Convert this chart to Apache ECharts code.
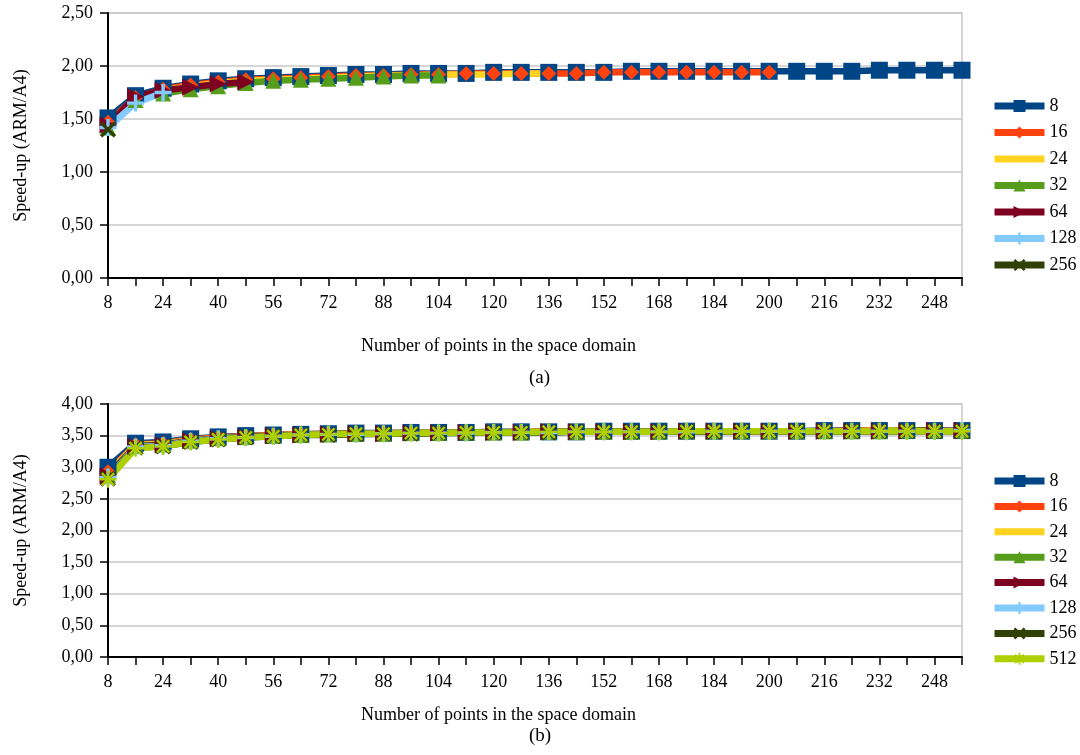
<!DOCTYPE html>
<html><head><meta charset="utf-8">
<script src="https://cdn.jsdelivr.net/npm/echarts@6/dist/echarts.min.js"></script>
<style>html,body{margin:0;padding:0;background:#fff}#c{width:1080px;height:755px}</style>
</head><body><div id="c"></div>
<script>
const categories = [8,16,24,32,40,48,56,64,72,80,88,96,104,112,120,128,136,144,152,160,168,176,184,192,200,208,216,224,232,240,248,256];
const seriesNamesA = ['8','16','24','32','64','128','256'];
const seriesNamesB = ['8','16','24','32','64','128','256','512'];
// Panel (a)
const a8   = [1.51,1.72,1.79,1.83,1.86,1.88,1.89,1.90,1.91,1.92,1.92,1.93,1.93,1.93,1.94,1.94,1.94,1.94,1.94,1.95,1.95,1.95,1.95,1.95,1.95,1.95,1.95,1.95,1.96,1.96,1.96,1.96];
const a16  = [1.47,1.70,1.78,1.82,1.85,1.87,1.88,1.89,1.90,1.91,1.91,1.92,1.92,1.93,1.93,1.93,1.93,1.93,1.94,1.94,1.94,1.94,1.94,1.94,1.94];
const a24  = [1.45,1.69,1.77,1.81,1.84,1.86,1.87,1.88,1.89,1.90,1.91,1.91,1.92,1.92,1.92,1.93,1.93];
const a32  = [1.42,1.68,1.74,1.78,1.81,1.84,1.86,1.87,1.88,1.89,1.90,1.91,1.91];
const a64  = [1.44,1.71,1.77,1.80,1.83,1.85];
const a128 = [1.42,1.65,1.75];
const a256 = [1.40];
// Panel (b)
const b8   = [3.00,3.38,3.40,3.45,3.48,3.50,3.51,3.52,3.53,3.54,3.54,3.55,3.55,3.55,3.56,3.56,3.56,3.56,3.57,3.57,3.57,3.57,3.57,3.57,3.57,3.57,3.58,3.58,3.58,3.58,3.58,3.58];
const b16  = [2.93,3.36,3.38,3.44,3.47,3.49,3.51,3.52,3.53,3.53,3.54,3.54,3.55,3.55,3.55,3.56,3.56,3.56,3.56,3.57,3.57,3.57,3.57,3.57,3.57,3.57,3.57,3.58,3.58,3.58,3.58,3.58];
const b24  = [2.90,3.35,3.37,3.43,3.46,3.49,3.50,3.52,3.52,3.53,3.54,3.54,3.55,3.55,3.55,3.56,3.56,3.56,3.56,3.56,3.57,3.57,3.57,3.57,3.57,3.57,3.57,3.57,3.58,3.58,3.58,3.58];
const b32  = [2.88,3.34,3.36,3.42,3.46,3.48,3.50,3.51,3.52,3.53,3.53,3.54,3.54,3.55,3.55,3.55,3.56,3.56,3.56,3.56,3.56,3.57,3.57,3.57,3.57,3.57,3.57,3.57,3.57,3.58,3.58,3.58];
const b64  = [2.86,3.33,3.35,3.42,3.45,3.48,3.50,3.51,3.52,3.53,3.53,3.54,3.54,3.55,3.55,3.55,3.56,3.56,3.56,3.56,3.56,3.57,3.57,3.57,3.57,3.57,3.57,3.57,3.57,3.57,3.58,3.58];
const b128 = [2.84,3.32,3.34,3.41,3.45,3.47,3.49,3.51,3.52,3.52,3.53,3.54,3.54,3.54,3.55,3.55,3.55,3.56,3.56,3.56,3.56,3.56,3.57,3.57,3.57,3.57,3.57,3.57,3.57,3.57,3.57,3.58];
const b256 = [2.82,3.31,3.33,3.40,3.44,3.47,3.49,3.51,3.51,3.52,3.53,3.53,3.54,3.54,3.55,3.55,3.55,3.56,3.56,3.56,3.56,3.56,3.56,3.57,3.57,3.57,3.57,3.57,3.57,3.57,3.57,3.57];
const b512 = [2.81,3.30,3.33,3.40,3.44,3.47,3.49,3.51,3.52,3.53,3.53,3.54,3.54,3.55,3.55,3.55,3.56,3.56,3.56,3.56,3.56,3.57,3.57,3.57,3.57,3.57,3.57,3.57,3.57,3.57,3.57,3.57];
const yTicksA = {min:0, max:2.5, interval:0.5};
const yTicksB = {min:0, max:4, interval:0.5};
const xTitle = 'Number of points in the space domain';
const yTitle = 'Speed-up (ARM/A4)';

const FONT = 'Liberation Serif';
const styles = {
  '8':   {color:'#004586', symbol:'rect', size:17},
  '16':  {color:'#ff420e', symbol:'diamond', size:15},
  '24':  {color:'#ffd320', symbol:'none', size:0},
  '32':  {color:'#579d1c', symbol:'triangle', size:16},
  '64':  {color:'#7e0021', symbol:'triangle', size:17, rotate:-90},
  '128': {color:'#83caff', symbol:'path://M4,0H6V4H10V6H6V10H4V6H0V4H4Z', size:17},
  '256': {color:'#314004', symbol:'path://M1.5,0L5,3.5L8.5,0L10,1.5L6.5,5L10,8.5L8.5,10L5,6.5L1.5,10L0,8.5L3.5,5L0,1.5Z', size:16},
  '512': {color:'#aecf00', symbol:'path://M4.3,0H5.7V3.3L8.1,0.9L9.1,1.9L6.7,4.3H10V5.7H6.7L9.1,8.1L8.1,9.1L5.7,6.7V10H4.3V6.7L1.9,9.1L0.9,8.1L3.3,5.7H0V4.3H3.3L0.9,1.9L1.9,0.9L4.3,3.3Z', size:17}
};
const dataA = {'8':a8,'16':a16,'24':a24,'32':a32,'64':a64,'128':a128,'256':a256};
const dataB = {'8':b8,'16':b16,'24':b24,'32':b32,'64':b64,'128':b128,'256':b256,'512':b512};

function mk(name, data, idx){
  const s = styles[name];
  return {
    name, type:'line', xAxisIndex:idx, yAxisIndex:idx, data,
    symbol:s.symbol, symbolSize:s.size, symbolRotate:s.rotate||0,
    showAllSymbol:true, animation:false,
    lineStyle:{color:s.color, width:6.5}, itemStyle:{color:s.color}
  };
}
const fmt = v => v.toFixed(2).replace('.', ',');
const xAxisBase = (gi) => ({
  type:'category', gridIndex:gi, data:categories, boundaryGap:false,
  axisLine:{lineStyle:{color:'#000', width:2}},
  axisTick:{interval:0, length:8, lineStyle:{color:'#000', width:1.5}},
  axisLabel:{interval:1, color:'#000', fontFamily:FONT, fontSize:18, margin:16},
  splitLine:{show:false}
});
const yAxisBase = (gi, t) => ({
  type:'value', gridIndex:gi, min:t.min, max:t.max, interval:t.interval,
  name:yTitle, nameLocation:'middle', nameGap:78, nameRotate:90,
  nameTextStyle:{color:'#000', fontFamily:FONT, fontSize:18},
  axisLine:{show:true, lineStyle:{color:'#000', width:2}},
  axisTick:{show:true, length:8, lineStyle:{color:'#000', width:1.5}},
  axisLabel:{formatter:fmt, color:'#000', fontFamily:FONT, fontSize:18, margin:15},
  splitLine:{lineStyle:{color:'#c8c8c8', width:1.5}}
});
const legendBase = (top, names, gap) => ({
  orient:'vertical', left:991, top, padding:0,
  data:names.map(n => n === '24' ? {name:n, itemStyle:{opacity:0}} : n),
  itemWidth:50, itemHeight:15, itemGap:gap,
  lineStyle:{width:7},
  textStyle:{color:'#000', fontFamily:FONT, fontSize:18}
});
const txt = (text, left, top, size) => ({type:'text', left, top,
  style:{text, fill:'#000', fontFamily:FONT, fontSize:size}});

const option = {
  backgroundColor:'#fff',
  animation:false,
  grid:[
    {left:108, right:118, top:13, height:265, show:true, borderColor:'#c8c8c8', borderWidth:1.5},
    {left:108, right:118, top:404, height:253, show:true, borderColor:'#c8c8c8', borderWidth:1.5}
  ],
  xAxis:[xAxisBase(0), xAxisBase(1)],
  yAxis:[yAxisBase(0, yTicksA), yAxisBase(1, yTicksB)],
  legend:[legendBase(97, seriesNamesA, 8.5), legendBase(472, seriesNamesB, 7.4)],
  graphic:[
    txt(xTitle, 361, 337, 18),
    txt('(a)', 529, 369, 19),
    txt(xTitle, 361, 706, 18),
    txt('(b)', 529, 727, 19)
  ],
  series:[
    ...seriesNamesA.map(n => mk(n, dataA[n], 0)),
    ...seriesNamesB.map(n => mk(n, dataB[n], 1))
  ]
};
const chart = echarts.init(document.getElementById('c'), null, {renderer:'canvas'});
chart.setOption(option);
</script>
</body></html>
